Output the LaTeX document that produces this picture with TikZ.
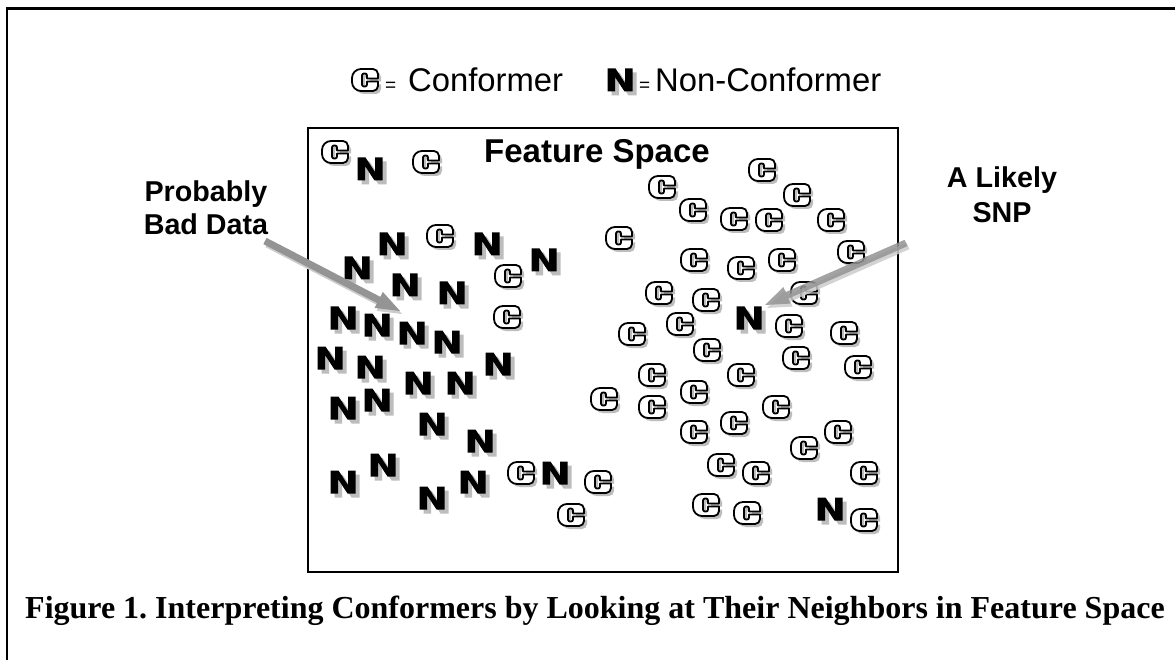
\documentclass[tikz,border=0pt]{standalone}
\usepackage{fontspec}
\setmainfont{Liberation Serif}
\setsansfont{Liberation Sans}
\usetikzlibrary{calc}
\frenchspacing

\definecolor{symshade}{gray}{0.74}
\definecolor{pointerdark}{gray}{0.58}
\definecolor{pointerlight}{gray}{0.80}

\tikzset{
  % outline of the hollow block letter C (y axis points down)
  cglyph/.style={insert path={
    (13,-1.5) [rounded corners=5pt] -- (13,-11) [rounded corners=9pt] -- (-13,-11)
    -- (-13,11) [rounded corners=5pt] -- (13,11) [sharp corners] -- (13,1.5)
    -- (2,1.5) [rounded corners=2pt] -- (2,6.5) -- (-3,6.5) -- (-3,-6.5)
    -- (2,-6.5) [sharp corners] -- (2,-1.5) -- cycle}},
  % heavy block letter N
  nglyph/.style={insert path={
    (-12.5,11.5) -- (-12.5,-11.5) -- (-4.5,-11.5) -- (5,3) -- (5,-11.5)
    -- (12.5,-11.5) -- (12.5,11.5) -- (4.5,11.5) -- (-5,-3) -- (-5,11.5) -- cycle}},
  conf/.pic={
    \fill[symshade, shift={(3,3)}] [cglyph];
    \filldraw[fill=white, draw=black, line width=1.8pt, line join=round] [cglyph];
  },
  nonconf/.pic={
    \fill[symshade, shift={(4,4)}] [nglyph];
    \fill[black] [nglyph];
  },
  label/.style={font=\sffamily\bfseries\fontsize{28.7}{34}\selectfont, inner sep=0pt, anchor=base},
  legend/.style={font=\sffamily\fontsize{32.8}{38}\selectfont, inner sep=0pt, anchor=base west},
  eqsign/.style={font=\sffamily\fontsize{19}{20}\selectfont, inner sep=0pt, anchor=base west},
}

% broad flat pointer from tail #1 to tip #2, filled with style #3
\newcommand{\bigpointer}[3]{%
  \coordinate (#1-neck) at ($(#2)!24pt!(#1)$);
  \fill[#3] ($(#1)!3.5pt!90:(#2)$) -- ($(#1-neck)!3.5pt!90:(#2)$)
    -- ($(#1-neck)!9pt!90:(#2)$) -- (#2) -- ($(#1-neck)!9pt!-90:(#2)$)
    -- ($(#1-neck)!3.5pt!-90:(#2)$) -- ($(#1)!3.5pt!-90:(#2)$) -- cycle;}

\begin{document}
\begin{tikzpicture}[x=1pt, y=-1pt]
\useasboundingbox (0,0) rectangle (1175,660);
\fill[white] (0,0) rectangle (1175,660);

% page frame (top and left rules)
\draw[line width=2.4pt] (7.2,660) -- (7.2,8.7) -- (1175,8.7);

% legend
\pic at (365,80) {conf};
\node[eqsign] (eq-c) at (385,92) {=};
\node[legend] (lg-c) at (408,92) {Conformer};
\pic at (620,80) {nonconf};
\node[eqsign] (eq-n) at (639,92) {=};
\node[legend] (lg-n) at (655,92) {Non-Conformer};

% feature space box
\draw[line width=1.5pt] (308,128) rectangle (898,572);
\node[label, font=\sffamily\bfseries\fontsize{33}{40}\selectfont] (fs) at (597,163) {Feature Space};

% conformers
\foreach \p in {(335,152),(426,162),(440,236),(508,276),(507,317),(619,238),
  (604,399),(521,473),(598,482),(571,515),
  (662,187),(762,170),(797,195),(693,210),(734,219),(769,220),(831,220),
  (851,252),(694,260),(741,268),(782,260),(659,293),(706,300),(804,293),
  (632,334),(680,324),(789,326),(844,333),(707,350),(796,358),(858,367),
  (652,375),(741,375),(694,392),(652,407),(776,407),(734,423),(694,432),
  (838,432),(804,448),(721,465),(756,473),(864,473),(706,505),(747,513),(864,520)}
  \pic at \p {conf};

% non-conformers
\foreach \p in {(370,169),(392,244),(487,244),(544,260),(357,268),(405,285),
  (452,293),(343,318),(377,325),(412,333),(447,342),(330,358),(370,367),
  (498,364),(418,383),(460,383),(377,400),(343,408),(432,424),(480,441),
  (383,465),(343,482),(473,482),(432,498),(555,473),(749,318),(830,509)}
  \pic at \p {nonconf};

% callouts
\node[label] (bad1) at (206,202) {Probably};
\node[label] (bad2) at (206,235) {Bad Data};
\node[label] (snp1) at (1002,188) {A Likely};
\node[label] (snp2) at (1002,223) {SNP};

\coordinate (bad-tail) at (265,241);
\coordinate (bad-tip) at (400,311);
\coordinate (bad-tail-s) at ($(bad-tail)+(2,3)$);
\coordinate (bad-tip-s) at ($(bad-tip)+(2,3)$);
\bigpointer{bad-tail-s}{bad-tip-s}{pointerlight}
\bigpointer{bad-tail}{bad-tip}{pointerdark}

\coordinate (snp-tail) at (906,243);
\coordinate (snp-tip) at (765,305);
\coordinate (snp-tail-s) at ($(snp-tail)+(2,3)$);
\coordinate (snp-tip-s) at ($(snp-tip)+(2,3)$);
\bigpointer{snp-tail-s}{snp-tip-s}{pointerlight, fill opacity=0.85}
\bigpointer{snp-tail}{snp-tip}{pointerdark, fill opacity=0.85}

% caption
\node[font=\rmfamily\bfseries\fontsize{32}{38}\selectfont, inner sep=0pt, anchor=base west]
  (cap) at (25,618) {Figure 1. Interpreting Conformers by Looking at Their Neighbors in Feature Space};
\end{tikzpicture}
\end{document}
